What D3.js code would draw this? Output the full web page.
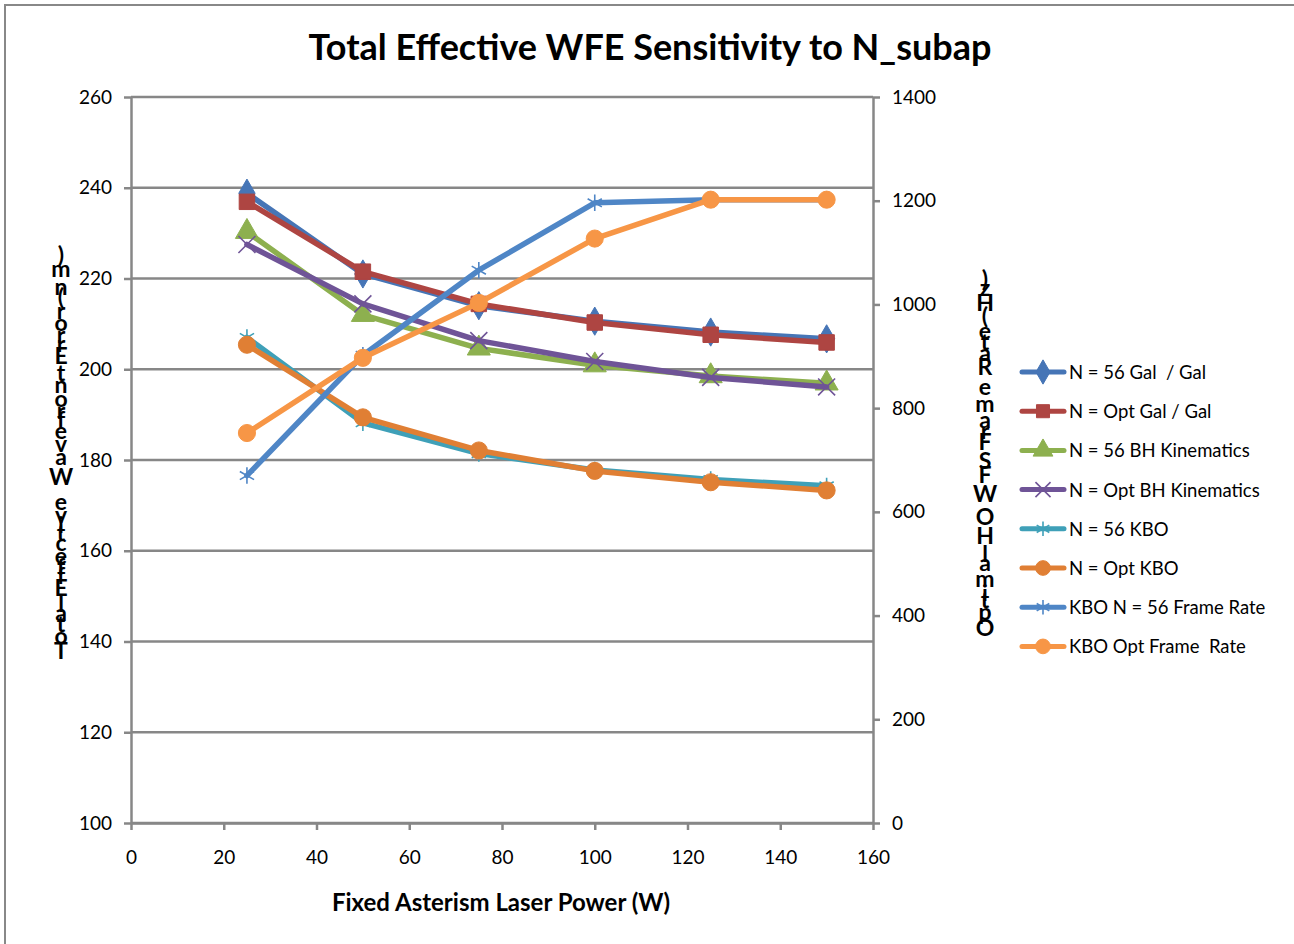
<!DOCTYPE html>
<html lang="en">
<head>
    <meta charset="UTF-8">
    <title>Total Effective WFE Sensitivity to N_subap</title>
    <style>
        body {
            margin: 0;
            background: #fff;
            overflow: hidden;
        }
        svg text {
            font-family: Lato, "Open Sans", sans-serif;
            fill: #000;
        }
    </style>
</head>
<body>
<div id="chart"></div>

<script src="https://d3js.org/d3.v7.min.js"></script>
<script>
    // ---- data ----
    const powers = [25, 50, 75, 100, 125, 150];

    const n56GalGal = [238.8, 221.0, 214.0, 210.6, 208.2, 206.7];
    const optGalGal = [236.9, 221.5, 214.4, 210.3, 207.6, 205.9];
    const n56BH = [230.3, 212.0, 204.6, 200.9, 198.5, 196.9];
    const optBH = [227.5, 214.4, 206.3, 201.7, 198.2, 196.1];
    const n56KBO = [207.0, 188.2, 181.4, 177.8, 175.7, 174.3];
    const optKBO = [205.4, 189.4, 182.1, 177.6, 175.1, 173.3];
    const kboN56Rate = [670, 902, 1066, 1196, 1202, 1202];
    const kboOptRate = [752, 897, 1003, 1127, 1202, 1202];

    const seriesNames = ["N = 56 Gal  / Gal", "N = Opt Gal / Gal", "N = 56 BH Kinematics",
        "N = Opt BH Kinematics", "N = 56 KBO", "N = Opt KBO", "KBO N = 56 Frame Rate", "KBO Opt Frame  Rate"];
    const seriesValues = [n56GalGal, optGalGal, n56BH, optBH, n56KBO, optKBO, kboN56Rate, kboOptRate];
    const seriesAxis = ["left", "left", "left", "left", "left", "left", "right", "right"];
    const seriesColors = ["#4675B6", "#AE4542", "#8DB04F", "#6F5497", "#3FA0B8", "#E07F34", "#4F86C6", "#F79646"];
    const seriesMarkers = ["diamond", "square", "triangle", "x", "asterisk", "circle", "asterisk", "circle"];

    const xTicks = [0, 20, 40, 60, 80, 100, 120, 140, 160];
    const leftTicks = [100, 120, 140, 160, 180, 200, 220, 240, 260];
    const rightTicks = [0, 200, 400, 600, 800, 1000, 1200, 1400];

    const title = "Total Effective WFE Sensitivity to N_subap";
    const xTitle = "Fixed Asterism Laser Power (W)";
    const leftTitle = "Total Effective Wavefront Error (nm)";
    const rightTitle = "Optimal HOWFS Frame Rate (Hz)";

    // ---- layout ----
    const W = 1294, H = 944;
    const plot = { left: 131, right: 873, top: 97, bottom: 823 };

    const svg = d3.select("#chart").append("svg")
        .attr("width", W)
        .attr("height", H);

    svg.append("rect")
        .attr("x", 5).attr("y", 5)
        .attr("width", W + 20).attr("height", H + 20)
        .attr("fill", "#fff")
        .attr("stroke", "#888")
        .attr("stroke-width", 2);

    const x = d3.scaleLinear().domain([0, 160]).range([plot.left, plot.right]);
    const yL = d3.scaleLinear().domain([100, 260]).range([plot.bottom, plot.top]);
    const yR = d3.scaleLinear().domain([0, 1400]).range([plot.bottom, plot.top]);

    const gridColor = "#878787";
    const tickFont = 19;

    // gridlines
    svg.append("g")
        .selectAll("line")
        .data(leftTicks)
        .join("line")
        .attr("x1", plot.left).attr("x2", plot.right)
        .attr("y1", d => yL(d)).attr("y2", d => yL(d))
        .attr("stroke", gridColor)
        .attr("stroke-width", 2.5);

    function styleAxis(g) {
        g.select(".domain").attr("stroke", gridColor).attr("stroke-width", 2.5);
        g.selectAll(".tick line").attr("stroke", gridColor).attr("stroke-width", 2.5);
        g.selectAll(".tick text")
            .attr("font-size", tickFont)
            .attr("font-family", "Lato, sans-serif")
            .attr("fill", "#000");
    }

    svg.append("g")
        .attr("transform", `translate(0,${plot.bottom})`)
        .call(d3.axisBottom(x).tickValues(xTicks).tickSize(7).tickSizeOuter(0).tickPadding(21))
        .call(styleAxis);

    svg.append("g")
        .attr("transform", `translate(${plot.left},0)`)
        .call(d3.axisLeft(yL).tickValues(leftTicks).tickSize(7).tickSizeOuter(0).tickPadding(12))
        .call(styleAxis);

    svg.append("g")
        .attr("transform", `translate(${plot.right},0)`)
        .call(d3.axisRight(yR).tickValues(rightTicks).tickFormat(d3.format("d"))
            .tickSize(7).tickSizeOuter(0).tickPadding(12))
        .call(styleAxis);

    // marker builder
    function markerPath(type, size) {
        const map = {
            diamond: d3.symbolDiamond,
            square: d3.symbolSquare,
            triangle: d3.symbolTriangle,
            circle: d3.symbolCircle,
            x: d3.symbolX,
            asterisk: d3.symbolAsterisk
        };
        return d3.symbol().type(map[type]).size(size)();
    }
    const strokeMarkers = ["x", "asterisk"];

    function drawMarker(g, type, color, cx, cy, size) {
        const p = g.append("path")
            .attr("d", markerPath(type, size))
            .attr("transform", `translate(${cx},${cy})`);
        if (strokeMarkers.includes(type)) {
            p.attr("fill", "none").attr("stroke", color).attr("stroke-width", 1.6);
        } else {
            p.attr("fill", color).attr("stroke", color).attr("stroke-width", 1);
        }
    }

    // series
    seriesValues.forEach((vals, i) => {
        const y = seriesAxis[i] === "left" ? yL : yR;
        const pts = powers.map((p, j) => [x(p), y(vals[j])]);
        const g = svg.append("g");
        g.append("path")
            .attr("d", d3.line()(pts))
            .attr("fill", "none")
            .attr("stroke", seriesColors[i])
            .attr("stroke-width", 5.5)
            .attr("stroke-linejoin", "round")
            .attr("stroke-linecap", "round");
        const size = strokeMarkers.includes(seriesMarkers[i]) ? 190 : (seriesMarkers[i] === "square" ? 240 : 230);
        pts.forEach(([cx, cy]) => drawMarker(g, seriesMarkers[i], seriesColors[i], cx, cy, size));
    });

    // legend
    const legend = svg.append("g");
    const legY0 = 372, legStep = 39.2;
    seriesNames.forEach((name, i) => {
        const ly = legY0 + i * legStep;
        legend.append("line")
            .attr("x1", 1022).attr("x2", 1064)
            .attr("y1", ly).attr("y2", ly)
            .attr("stroke", seriesColors[i])
            .attr("stroke-width", 5)
            .attr("stroke-linecap", "round");
        const size = strokeMarkers.includes(seriesMarkers[i]) ? 150 : 170;
        drawMarker(legend, seriesMarkers[i], seriesColors[i], 1043, ly, size);
        legend.append("text")
            .attr("x", 1069).attr("y", ly + 7)
            .attr("font-size", 18.5)
            .attr("xml:space", "preserve")
            .text(name);
    });

    // titles
    svg.append("text")
        .attr("x", 650).attr("y", 60)
        .attr("text-anchor", "middle")
        .attr("font-size", 36)
        .attr("font-weight", "bold")
        .text(title);

    svg.append("text")
        .attr("x", 501).attr("y", 911)
        .attr("text-anchor", "middle")
        .attr("font-size", 24)
        .attr("font-weight", "bold")
        .text(xTitle);

    // stacked vertical titles: one text, letters upright, first letter at the
    // bottom, each advanced by its own width (as the original renders it)
    function stackedTitle(text, cx, yTop, yBottom) {
        const t = svg.append("text")
            .attr("text-anchor", "middle")
            .attr("font-size", 23)
            .attr("font-weight", "bold")
            .attr("xml:space", "preserve");
        const spans = Array.from(text).map(c => t.append("tspan").attr("x", cx).text(c));
        const widths = spans.map(s => Math.max(s.node().getComputedTextLength(), 4));
        const k = (yBottom - yTop) / d3.sum(widths);
        let pos = yBottom;
        spans.forEach((s, i) => {
            const h = widths[i] * k;
            s.attr("y", pos - h / 2 + 8);
            pos -= h;
        });
    }
    stackedTitle(leftTitle, 61, 252, 658);
    stackedTitle(rightTitle, 985, 276, 638);
</script>
</body>
</html>
